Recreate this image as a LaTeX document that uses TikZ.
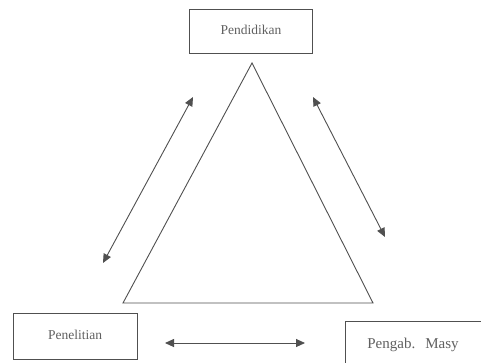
\documentclass[tikz,border=0pt]{standalone}
\usepackage{fontspec}
\setmainfont{Liberation Serif}
\usetikzlibrary{arrows.meta}
\definecolor{ink}{HTML}{505050}
\definecolor{txt}{HTML}{606060}
\tikzset{
  lbl/.style={font=\fontsize{13.5}{16}\selectfont, text=txt, inner sep=0pt},
  box/.style={draw=ink, line width=0.9pt},
  tri/.style={draw=ink, line width=0.9pt, line join=miter},
  dbl/.style={draw=ink, line width=0.9pt, {Triangle[length=9pt,width=8pt]}-{Triangle[length=9pt,width=8pt]}}
}
\begin{document}
\begin{tikzpicture}[x=1pt,y=-1pt]
\clip (0,0) rectangle (481,362);
\fill[white] (0,0) rectangle (481,362);
% boxes
\draw[box] (189,9) rectangle (312,53);
\node[lbl] (pend) at (251,30) {Pendidikan};
\draw[box] (13,313) rectangle (137,359);
\node[lbl] (pene) at (75,335) {Penelitian};
\draw[box] (345,321) rectangle (500,380);
\node[lbl, font=\fontsize{15}{18}\selectfont] (peng) at (413,345) {Pengab.\hspace{10pt}Masy};
% triangle
\coordinate (apex) at (252,63);
\coordinate (bl) at (123,303);
\coordinate (br) at (373,303);
\draw[tri] (apex) -- (bl) -- (br) -- cycle;
% arrows
\coordinate (l1) at (193,97);
\coordinate (l2) at (103,263);
\draw[dbl] (l1) -- (l2);
\coordinate (r1) at (313,97);
\coordinate (r2) at (385,237);
\draw[dbl] (r1) -- (r2);
\coordinate (h1) at (165,343);
\coordinate (h2) at (305,343);
\draw[dbl] (h1) -- (h2);
\end{tikzpicture}
\end{document}
